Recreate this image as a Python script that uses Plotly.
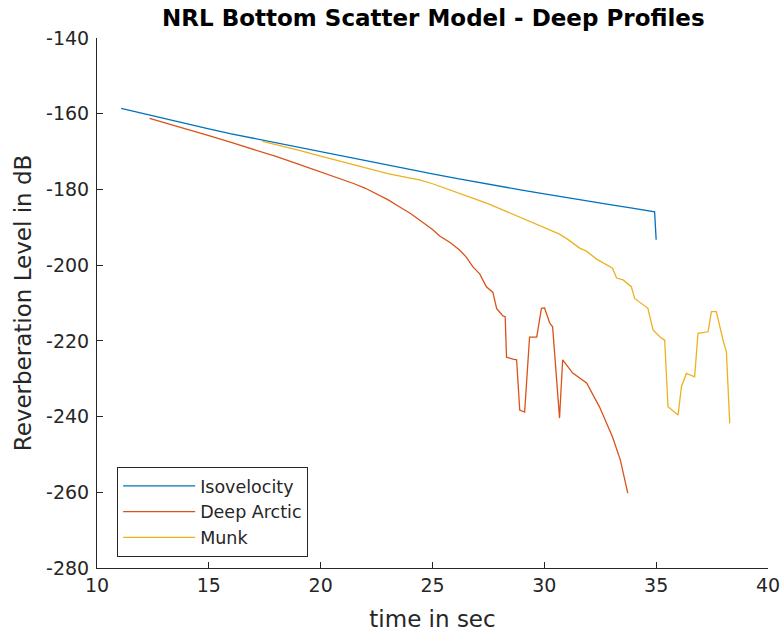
import plotly.graph_objects as go

# ---- data ----
iso_t = [11.08, 12, 13, 14, 15, 16, 17, 18, 19, 20, 21, 22, 23, 24, 25, 26, 27, 28, 29, 30,
         31, 32, 33, 34, 34.93, 35.0]
iso_rl = [-158.6, -159.9, -161.3, -162.7, -164.0, -165.3, -166.5, -167.7, -168.9, -170.1,
          -171.3, -172.5, -173.7, -174.8, -175.9, -177.0, -178.1, -179.2, -180.2, -181.2,
          -182.2, -183.1, -184.1, -185.0, -185.9, -193.3]

arc_t = [12.35, 13.0, 14.0, 15.0, 16.0, 17.0, 18.0, 19.0, 20.0, 20.5, 21.0, 21.5, 22.0, 22.5,
         23.0, 23.5, 24.0, 24.42, 25.0, 25.32, 25.8, 26.21, 26.5, 26.8, 27.11, 27.41, 27.7,
         27.87, 28.15, 28.25, 28.31, 28.6, 28.76, 28.90, 29.12, 29.34, 29.66, 29.87, 30.01,
         30.24, 30.37, 30.68, 30.82, 31.27, 31.89, 32.47, 33.05, 33.4, 33.73]
arc_rl = [-161.2, -162.3, -164.0, -165.8, -167.6, -169.4, -171.3, -173.3, -175.3, -176.3,
          -177.4, -178.5, -179.7, -181.1, -182.7, -184.5, -186.3, -188.1, -190.6, -192.3,
          -194.1, -196.0, -197.8, -200.4, -202.3, -205.7, -207.2, -211.5, -213.4, -213.6,
          -224.3, -224.8, -225.0, -238.3, -238.8, -219.0, -219.0, -211.4, -211.3, -215.3,
          -216.3, -240.4, -225.0, -228.5, -231.1, -237.5, -245.4, -251.5, -260.2]

munk_t = [17.4, 18, 19, 20, 21, 22, 23, 24, 24.42, 25, 26, 26.8, 27.5, 28.5, 28.9, 29.5,
          30.1, 30.68, 31, 31.58, 31.88, 32.34, 33.05, 33.23, 33.52, 33.89, 34.04, 34.34,
          34.63, 34.86, 35.16, 35.38, 35.53, 35.98, 36.13, 36.35, 36.72, 36.87, 37.32, 37.47,
          37.69, 37.99, 38.14, 38.29]
munk_rl = [-167.3, -168.1, -169.6, -171.2, -172.8, -174.3, -175.8, -177.0, -177.5, -178.5,
           -180.5, -182.3, -183.8, -186.3, -187.5, -188.8, -190.5, -191.8, -193.0, -195.5,
           -196.3, -198.4, -200.8, -203.4, -203.9, -205.7, -208.8, -210.1, -211.4, -217.1,
           -218.9, -219.8, -237.4, -239.6, -232.1, -228.6, -229.5, -218.0, -217.6, -212.3,
           -212.3, -219.8, -222.9, -241.8]

series_names = ["Isovelocity", "Deep Arctic", "Munk"]
x_ticks = [10, 15, 20, 25, 30, 35, 40]
y_ticks = [-280, -260, -240, -220, -200, -180, -160, -140]

colors = ["#0072BD", "#D95319", "#EDB120"]
axis_col = "#262626"
font_fam = "DejaVu Sans"

fig = go.Figure()
for t, rl, name, c in zip([iso_t, arc_t, munk_t], [iso_rl, arc_rl, munk_rl], series_names, colors):
    fig.add_trace(go.Scatter(x=t, y=rl, mode="lines", name=name,
                             line=dict(color=c, width=1.3)))

fig.update_layout(
    width=783, height=635,
    margin=dict(l=97, r=15, t=38, b=67, autoexpand=False),
    paper_bgcolor="white", plot_bgcolor="white",
    font=dict(family=font_fam, color=axis_col, size=18),
    title=dict(text="<b>NRL Bottom Scatter Model - Deep Profiles</b>",
               x=0.5535, xanchor="center", y=0.984, yanchor="top",
               font=dict(family=font_fam, size=23, color="#000000")),
    showlegend=True,
    legend=dict(x=0.03, y=0.1906, xanchor="left", yanchor="top",
                bgcolor="white", bordercolor=axis_col, borderwidth=1,
                font=dict(family=font_fam, size=17.5, color=axis_col),
                itemwidth=72, tracegroupgap=0),
)
fig.update_xaxes(range=[10, 40], tickvals=x_ticks, ticktext=[str(v) for v in x_ticks],
                 showgrid=False, zeroline=False, showline=True, linecolor=axis_col, linewidth=1,
                 ticks="inside", ticklen=6, tickcolor=axis_col, mirror=False, automargin=False,
                 tickfont=dict(size=19, color=axis_col),
                 title=dict(text="time in sec", font=dict(size=23, color=axis_col), standoff=16))
fig.update_yaxes(range=[-280, -140], tickvals=y_ticks, ticktext=[str(v) for v in y_ticks],
                 showgrid=False, zeroline=False, showline=True, linecolor=axis_col, linewidth=1,
                 ticks="inside", ticklen=6, tickcolor=axis_col, mirror=False, automargin=False,
                 ticklabelstandoff=3,
                 tickfont=dict(size=19, color=axis_col),
                 title=dict(text="Reverberation Level in dB", font=dict(size=23, color=axis_col),
                            standoff=8))

fig.write_html("out.html")
